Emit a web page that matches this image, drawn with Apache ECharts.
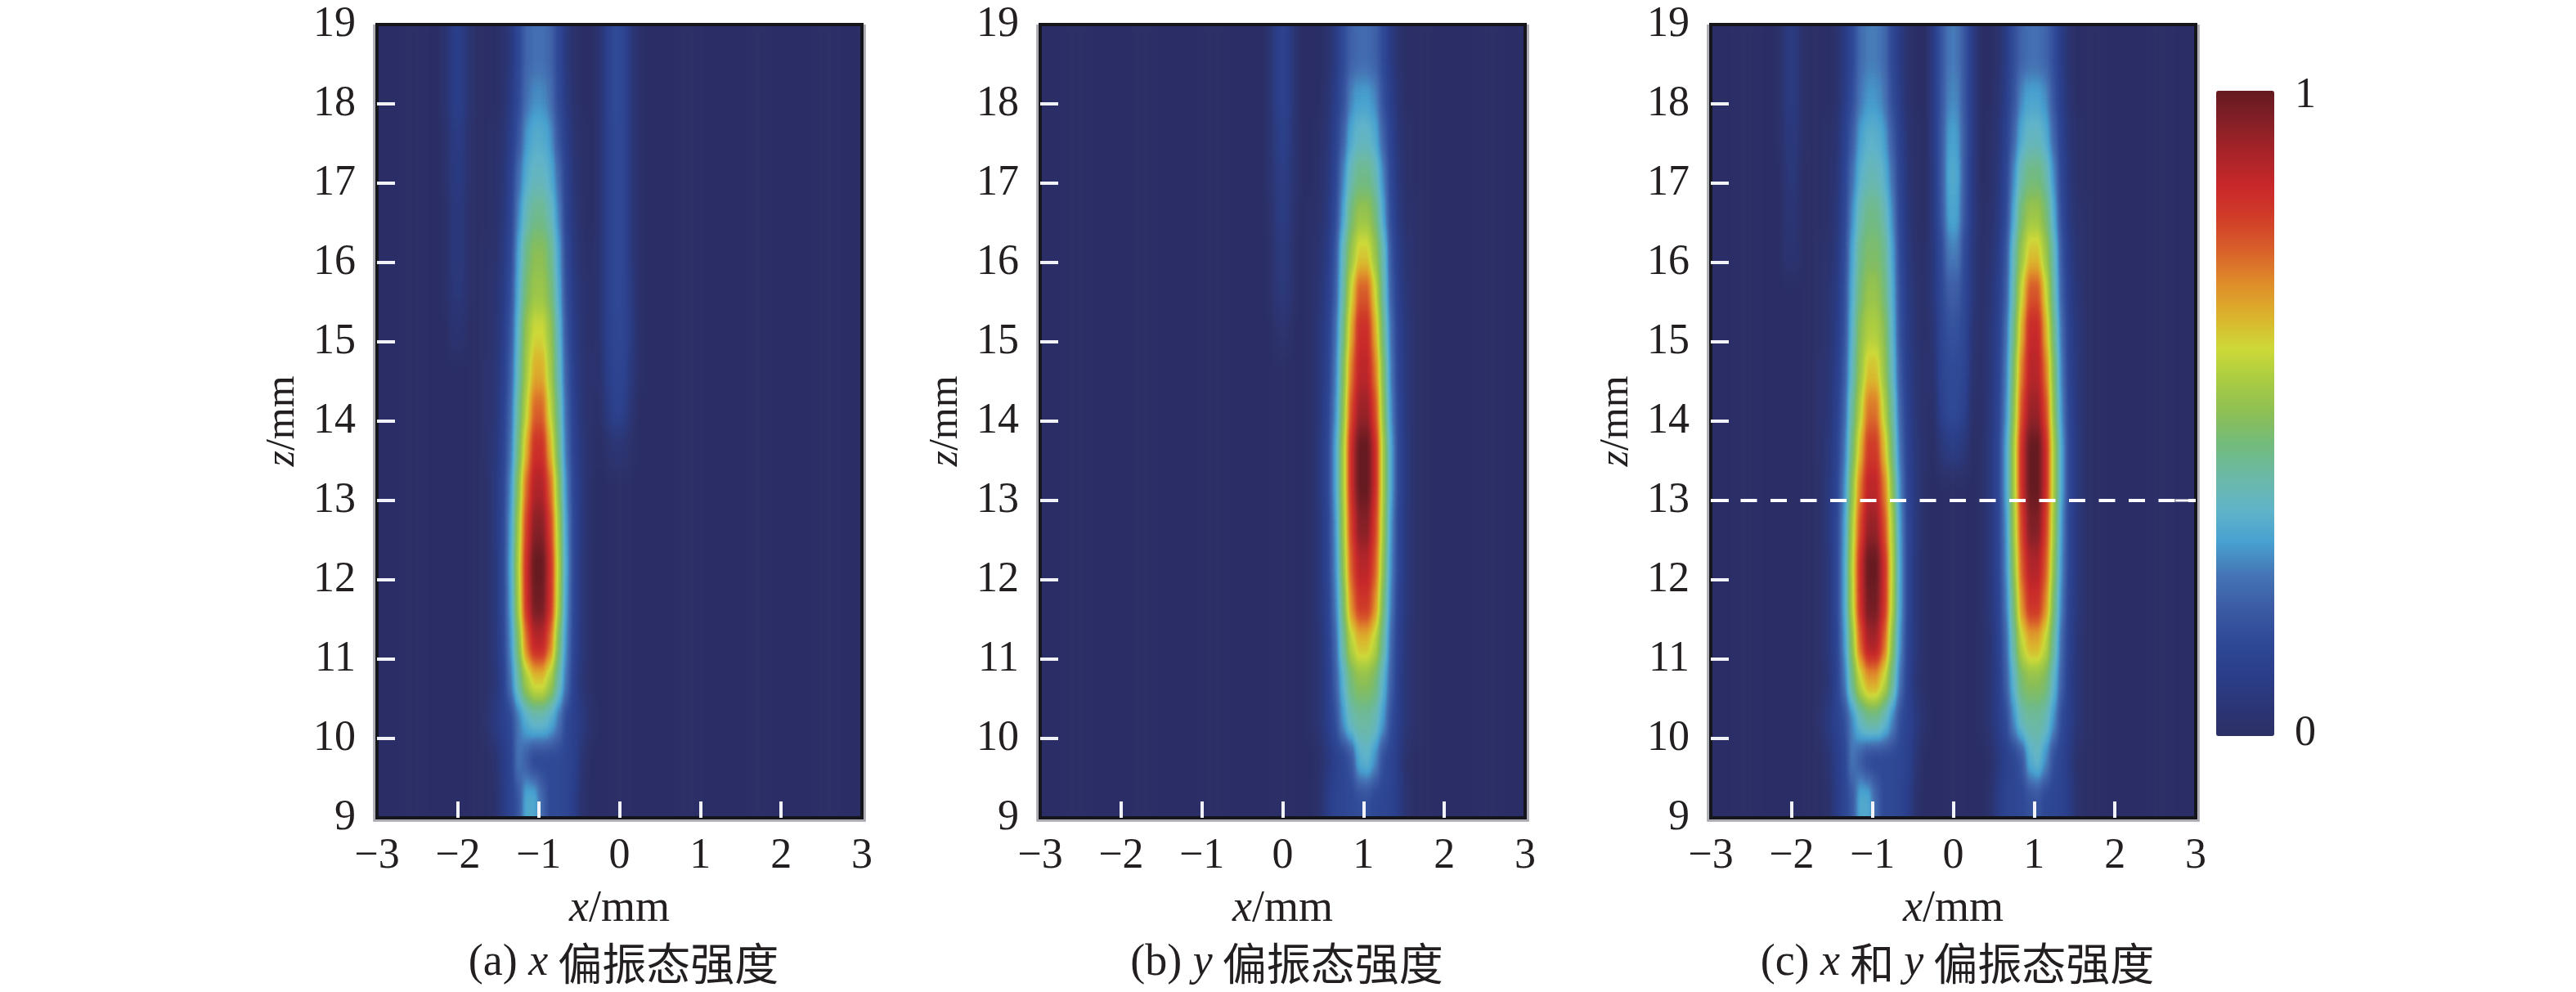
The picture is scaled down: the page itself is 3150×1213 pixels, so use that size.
<!DOCTYPE html>
<html><head><meta charset="utf-8">
<style>
html,body{margin:0;padding:0;background:#fff;width:3150px;height:1213px;overflow:hidden}
#heat,#axes{position:absolute;left:0;top:0;width:3150px;height:1213px}
#heat{filter:url(#soft)}
#clip{position:absolute;left:0;top:0;width:3150px;height:1213px;clip-path:path('M461 30H1054V1000H461Z M1272 30H1865V1000H1272Z M2092 30H2685V1000H2092Z')}
</style>
<script src="https://cdn.jsdelivr.net/npm/echarts@6/dist/echarts.min.js"></script>
</head><body>
<svg width="0" height="0" style="position:absolute"><filter id="soft" x="0" y="0" width="100%" height="100%" color-interpolation-filters="sRGB"><feGaussianBlur stdDeviation="3 14"/><feComponentTransfer><feFuncR id="fr" type="table"/><feFuncG id="fg" type="table"/><feFuncB id="fb" type="table"/></feComponentTransfer></filter></svg>
<div id="clip"><div id="heat"></div></div>
<div id="axes"></div>
<script>
// z of each row (mm), top row first; each row lists intensity in percent
const zRows = [18.75,18.25,17.75,17.25,16.75,16.25,15.75,15.25,14.75,14.25,13.75,13.25,12.75,12.25,11.75,11.25,10.75,10.25,9.75,9.25];
const xStartA = -2.25, xStartB = -0.25, xStartC = -2.25; // x of first column; columns are 0.1 mm wide
const panelA = [
[0,3,9,9,3,0, 0,0,2,6,14,22,24,24,22,14,6,2,0,0, 3,10,15,13,6,1],
[0,3,9,9,3,0, 0,0,2,7,15,24,28,28,24,15,7,2,0,0, 3,10,15,13,6,1],
[0,2,8,8,2,0, 0,1,3,9,18,29,33,33,29,18,9,3,1,0, 3,10,14,13,6,1],
[0,2,7,7,2,0, 0,1,4,11,23,33,37,37,33,23,11,4,1,0, 3,10,14,13,6,1],
[0,1,6,6,1,0, 0,1,5,12,27,38,43,43,38,27,12,5,1,0, 3,10,14,13,6,1],
[0,1,6,6,1,0, 1,2,6,14,31,44,50,50,44,31,14,6,2,1, 3,10,14,13,6,1],
[0,1,5,5,1,0, 1,3,7,16,33,47,53,53,47,33,16,7,3,1, 3,10,14,13,7,1],
[0,0,3,3,0,0, 1,3,8,18,36,52,60,60,52,36,18,8,3,1, 3,10,13,13,8,1],
[0,0,0,0,0,0, 2,4,9,20,38,54,66,66,54,38,20,9,4,2, 2,9,12,12,6,1],
[0,0,0,0,0,0, 2,4,10,22,42,58,75,75,58,42,22,10,4,2, 1,7,11,10,4,0],
[0,0,0,0,0,0, 2,5,11,24,45,65,83,83,65,45,24,11,5,2, 0,2,4,3,1,0],
[0,0,0,0,0,0, 1,6,12,27,50,74,89,89,74,50,27,12,6,1, 0,0,0,0,0,0],
[0,0,0,0,0,0, 1,6,13,29,54,80,95,95,80,54,29,13,6,1, 0,0,0,0,0,0],
[0,0,0,0,0,0, 1,5,13,30,56,84,100,100,84,56,30,13,5,1, 0,0,0,0,0,0],
[0,0,0,0,0,0, 1,5,13,29,55,83,98,98,83,55,29,13,5,1, 0,0,0,0,0,0],
[0,0,0,0,0,0, 1,5,12,27,48,73,87,87,73,48,27,12,5,1, 0,0,0,0,0,0],
[0,0,0,0,0,0, 1,4,10,24,40,54,62,62,54,40,24,10,4,1, 0,0,0,0,0,0],
[0,0,0,0,0,0, 2,7,10,14,25,33,37,37,33,25,14,10,7,2, 0,0,0,0,0,0],
[0,0,0,0,0,0, 0,2,8,12,25,20,14,14,14,14,13,10,3,0, 0,0,0,0,0,0],
[0,0,0,0,0,0, 0,1,7,12,18,32,32,22,14,14,13,9,2,0, 0,0,0,0,0,0]
];
const panelB = [
[0,4,10,10,4,0, 0,0,2,7,15,21,23,23,21,15,7,2,0,0],
[0,4,10,10,4,0, 0,0,3,9,17,27,30,30,27,17,9,3,0,0],
[0,3,9,9,3,0, 0,1,4,11,21,32,36,36,32,21,11,4,1,0],
[0,3,8,8,3,0, 0,1,5,13,27,39,44,44,39,27,13,5,1,0],
[0,2,7,7,2,0, 1,2,6,15,31,46,52,52,46,31,15,6,2,1],
[0,1,6,6,1,0, 1,3,8,18,38,52,62,62,52,38,18,8,3,1],
[0,1,5,5,1,0, 1,4,9,20,40,60,76,76,60,40,20,9,4,1],
[0,0,2,2,0,0, 1,5,10,23,44,66,84,84,66,44,23,10,5,1],
[0,0,0,0,0,0, 1,5,11,25,48,72,87,87,72,48,25,11,5,1],
[0,0,0,0,0,0, 1,5,12,27,50,78,92,92,78,50,27,12,5,1],
[0,0,0,0,0,0, 1,6,13,30,54,84,100,100,84,54,30,13,6,1],
[0,0,0,0,0,0, 1,6,13,30,54,84,100,100,84,54,30,13,6,1],
[0,0,0,0,0,0, 1,5,12,28,53,80,95,95,80,53,28,12,5,1],
[0,0,0,0,0,0, 1,5,12,27,50,76,88,88,76,50,27,12,5,1],
[0,0,0,0,0,0, 1,5,11,25,46,70,82,82,70,46,25,11,5,1],
[0,0,0,0,0,0, 1,4,10,22,41,57,64,64,57,41,22,10,4,1],
[0,0,0,0,0,0, 1,4,9,20,34,46,50,50,46,34,20,9,4,1],
[0,0,0,0,0,0, 1,4,9,16,29,38,41,41,38,29,16,9,4,1],
[0,0,0,0,0,0, 0,1,6,10,13,18,33,35,28,16,12,7,1,0],
[0,0,0,0,0,0, 0,2,8,12,13,14,16,17,14,13,12,8,2,0]
];
const panelC = [
[0,1,7,7,1,0, 0,0,2,7,14,23,26,26,23,14,7,2,0,0, 8,18,25,25,18,8, 0,0,2,8,16,22,24,24,22,16,8,2,0,0],
[0,1,7,7,1,0, 0,0,2,8,16,25,29,29,25,16,8,2,0,0, 8,18,27,27,18,8, 0,0,3,9,18,28,31,31,28,18,9,3,0,0],
[0,1,6,6,1,0, 0,1,3,10,20,30,34,34,30,20,10,3,1,0, 8,19,30,30,19,8, 0,1,4,11,22,33,37,37,33,22,11,4,1,0],
[0,0,5,5,0,0, 0,1,4,12,24,34,38,38,34,24,12,4,1,0, 7,19,32,32,19,7, 0,1,5,13,28,40,45,45,40,28,13,5,1,0],
[0,0,4,4,0,0, 0,1,5,13,28,39,44,44,39,28,13,5,1,0, 7,18,31,31,18,7, 1,2,6,15,32,47,53,53,47,32,15,6,2,1],
[0,0,3,3,0,0, 1,2,6,15,31,43,48,48,43,31,15,6,2,1, 6,15,26,26,15,6, 1,3,8,18,38,53,63,63,53,38,18,8,3,1],
[0,0,0,0,0,0, 1,3,7,16,33,46,52,52,46,33,16,7,3,1, 6,14,20,20,14,6, 1,4,9,20,40,60,77,77,60,40,20,9,4,1],
[0,0,0,0,0,0, 1,3,8,17,35,50,56,56,50,35,17,8,3,1, 4,13,17,17,13,4, 1,5,10,23,44,66,85,85,66,44,23,10,5,1],
[0,0,0,0,0,0, 2,4,9,19,37,52,63,63,52,37,19,9,4,2, 3,12,15,15,12,3, 1,5,11,25,48,72,88,88,72,48,25,11,5,1],
[0,0,0,0,0,0, 2,4,10,21,41,57,73,73,57,41,21,10,4,2, 1,10,14,14,10,1, 1,5,12,27,50,78,92,92,78,50,27,12,5,1],
[0,0,0,0,0,0, 2,5,11,24,45,64,81,81,64,45,24,11,5,2, 0,5,8,8,5,0, 1,6,13,30,54,84,100,100,84,54,30,13,6,1],
[0,0,0,0,0,0, 1,6,12,27,50,72,87,87,72,50,27,12,6,1, 0,0,0,0,0,0, 1,6,13,30,54,84,100,100,84,54,30,13,6,1],
[0,0,0,0,0,0, 1,6,13,29,55,78,93,93,78,55,29,13,6,1, 0,0,0,0,0,0, 1,5,12,28,53,80,96,96,80,53,28,12,5,1],
[0,0,0,0,0,0, 1,5,13,30,57,84,100,100,84,57,30,13,5,1, 0,0,0,0,0,0, 1,5,12,27,50,76,89,89,76,50,27,12,5,1],
[0,0,0,0,0,0, 1,5,13,30,56,83,98,98,83,56,30,13,5,1, 0,0,0,0,0,0, 1,5,11,25,46,70,83,83,70,46,25,11,5,1],
[0,0,0,0,0,0, 1,5,12,28,50,75,90,90,75,50,28,12,5,1, 0,0,0,0,0,0, 1,4,10,22,41,58,66,66,58,41,22,10,4,1],
[0,0,0,0,0,0, 1,4,11,24,43,58,67,67,58,43,24,11,4,1, 0,0,0,0,0,0, 1,4,9,20,35,47,50,50,47,35,20,9,4,1],
[0,0,0,0,0,0, 2,7,11,16,27,37,42,42,37,27,16,11,7,2, 0,0,0,0,0,0, 1,4,9,15,28,38,41,41,38,28,15,9,4,1],
[0,0,0,0,0,0, 0,3,9,13,25,20,15,14,14,14,13,11,4,0, 0,0,0,0,0,0, 0,1,6,10,13,18,33,36,28,16,12,7,1,0],
[0,0,0,0,0,0, 0,1,8,13,19,32,32,22,14,14,13,9,2,0, 0,0,0,0,0,0, 0,2,8,12,13,14,17,18,14,13,12,8,2,0]
];
const colorStops = ['#2c2f66','#2b3778','#2b3f8c','#2f4a97','#3c5ca5','#4575b5','#47a0d0','#60b4c9','#6bb9a8','#72bb7e','#8cbf55','#a8cc42','#cdd938','#dbb42c','#df8e2a','#d9622a','#d13f28','#c9282a','#aa2429','#862026','#641a20'];
const xTicks = [-2,-1,0,1,2];
const zTicks = [10,11,12,13,14,15,16,17,18];
const cutLine = [[-3,13],[3,13]];
const cutStub = [[2.75,13],[3,13]];

// the heat layer is drawn as a grey scale, smoothed, then coloured with the same stops as the colour bar
const ch=(c,i)=>(parseInt(c.substr(1+2*i,2),16)/255).toFixed(4);
['fr','fg','fb'].forEach((id,i)=>document.getElementById(id).setAttribute('tableValues',colorStops.map(c=>ch(c,i)).join(' ')));

const plots = [{l:461,rows:panelA,x0:xStartA},{l:1272,rows:panelB,x0:xStartB},{l:2092,rows:panelC,x0:xStartC}];
const W=593,T=30,H=970,colW=W/60,rowH=H/20,mX=3,mY=1;

const xCats=[];for(let i=0;i<60+2*mX;i++)xCats.push((-3.25+i*0.1).toFixed(2));
const yCats=[8.75,...zRows.slice().reverse(),19.25].map(String);
const heatChart=echarts.init(document.getElementById('heat'),null,{renderer:'canvas'});
const hGrids=[],hX=[],hY=[],hS=[];
plots.forEach((p,k)=>{
  hGrids.push({left:p.l-mX*colW,top:T-mY*rowH,width:W+2*mX*colW,height:H+2*mY*rowH,show:false});
  hX.push({type:'category',gridIndex:k,data:xCats,show:false});
  hY.push({type:'category',gridIndex:k,data:yCats,show:false});
  const start=Math.round((p.x0+3.25)/0.1);
  const rowsAll=[p.rows[0],...p.rows,p.rows[p.rows.length-1]].reverse();
  const data=[];
  rowsAll.forEach((r,j)=>{xCats.forEach((c,i)=>{const v=(i>=start&&i<start+r.length)?r[i-start]:0;data.push([i,j,v]);});});
  hS.push({type:'heatmap',xAxisIndex:k,yAxisIndex:k,data,silent:true,progressive:0,animation:false});
});
heatChart.setOption({animation:false,grid:hGrids,xAxis:hX,yAxis:hY,series:hS,
  visualMap:{show:false,min:0,max:100,inRange:{color:['#000000','#ffffff']},seriesIndex:[0,1,2]}});

// axes, frame, dashed line, colour bar, text
const SERIF='"Liberation Serif","Times New Roman",serif';
const fmt=v=>String(v).replace('-','\u2212');
const axesChart=echarts.init(document.getElementById('axes'),null,{renderer:'canvas'});
const grids=[],xs=[],ys=[];
plots.forEach((p,k)=>{
  grids.push({left:p.l,top:T,width:W,height:H,show:true,borderColor:'#15151c',borderWidth:4,backgroundColor:'transparent'});
  xs.push({type:'value',gridIndex:k,min:-3,max:3,interval:1,name:'{i|x}{r|/mm}',nameLocation:'middle',nameGap:85,
    nameTextStyle:{rich:{i:{fontFamily:SERIF,fontStyle:'italic',fontSize:54,color:'#231f20'},r:{fontFamily:SERIF,fontSize:54,color:'#231f20'}}},
    splitLine:{show:false},axisLine:{show:true,onZero:false,lineStyle:{color:'#15151c',width:4}},
    axisTick:{show:true,inside:true,length:20,customValues:xTicks,lineStyle:{color:'#f2f2fb',width:4}},
    axisLabel:{color:'#231f20',fontFamily:SERIF,fontSize:52,margin:21,formatter:fmt,hideOverlap:false,showMinLabel:true,showMaxLabel:true}});
  ys.push({type:'value',gridIndex:k,min:9,max:19,interval:1,name:'{i|z}{r|/mm}',nameLocation:'middle',nameGap:90,nameRotate:90,
    nameTextStyle:{rich:{i:{fontFamily:SERIF,fontStyle:'italic',fontSize:50,color:'#231f20'},r:{fontFamily:SERIF,fontSize:50,color:'#231f20'}}},
    splitLine:{show:false},axisLine:{show:true,onZero:false,lineStyle:{color:'#15151c',width:4}},
    axisTick:{show:true,inside:true,length:22,customValues:zTicks,lineStyle:{color:'#f2f2fb',width:4}},
    axisLabel:{color:'#231f20',fontFamily:SERIF,fontSize:52,margin:26,hideOverlap:false,showMinLabel:true,showMaxLabel:true}});
});
const rich={r:{fontFamily:SERIF,fontSize:54,fontWeight:'normal',color:'#231f20'},i:{fontFamily:SERIF,fontStyle:'italic',fontWeight:'normal',fontSize:54,color:'#231f20'},c:{fontFamily:'"Noto Sans CJK SC"',fontSize:54,fontWeight:'normal',color:'#231f20'}};
const capText=[
 '{r|(a) }{i|x}{c| 偏振态强度}',
 '{r|(b) }{i|y}{c| 偏振态强度}',
 '{r|(c) }{i|x}{c| 和 }{i|y}{c| 偏振态强度}'];
const titles=plots.map((p,k)=>({text:capText[k],left:p.l+W/2,top:1146,textAlign:'center',textStyle:{fontWeight:'normal',rich}}));
titles.push({text:'1',left:2814,top:86,textAlign:'center',textStyle:{fontFamily:SERIF,fontSize:52,fontWeight:'normal',color:'#231f20'}});
titles.push({text:'0',left:2814,top:866,textAlign:'center',textStyle:{fontFamily:SERIF,fontSize:52,fontWeight:'normal',color:'#231f20'}});
// soft grey edge of the printed frame
const edges=plots.map(p=>({type:'polyline',silent:true,z:1,shape:{points:[[p.l+W+3.5,T],[p.l+W+3.5,T+H+3.5],[p.l-3.5,T+H+3.5],[p.l-3.5,T]]},style:{fill:null,stroke:'#a4a4ac',lineWidth:2.5}}));
axesChart.setOption({animation:false,backgroundColor:'transparent',title:titles,grid:grids,xAxis:xs,yAxis:ys,graphic:edges,
 visualMap:{type:'continuous',show:true,min:0,max:100,seriesIndex:2,calculable:false,padding:0,left:2710,top:111,itemWidth:71,itemHeight:789,text:null,showLabel:false,inRange:{color:colorStops}},
 series:[
  {type:'line',xAxisIndex:2,yAxisIndex:2,data:cutLine,symbol:'none',silent:true,z:5,lineStyle:{color:'#fff',width:4,type:[20,16.5]}},
  {type:'line',xAxisIndex:2,yAxisIndex:2,data:cutStub,symbol:'none',silent:true,z:5,lineStyle:{color:'#fff',width:3}},
  {type:'scatter',xAxisIndex:2,yAxisIndex:2,data:[],silent:true}
 ]});
</script>
</body></html>
